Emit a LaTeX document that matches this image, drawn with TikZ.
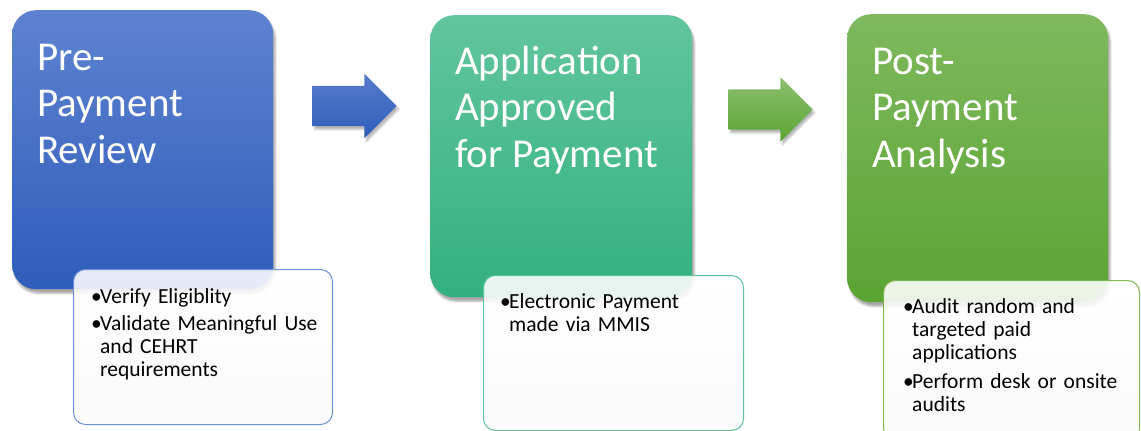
\documentclass[tikz,border=0pt]{standalone}
\usepackage{fontspec}
\setmainfont{Carlito}
\usetikzlibrary{shapes.arrows,shadows.blur}
\definecolor{B1}{RGB}{94, 130, 208}
\definecolor{B2}{RGB}{46, 93, 186}
\definecolor{T1}{RGB}{98, 197, 157}
\definecolor{T2}{RGB}{50, 177, 126}
\definecolor{G1}{RGB}{127, 184, 94}
\definecolor{G2}{RGB}{90, 164, 50}
\definecolor{BL}{RGB}{110, 144, 216}
\definecolor{TL}{RGB}{96, 196, 155}
\definecolor{GL}{RGB}{126, 184, 84}
\newcommand{\bul}[1]{\hangindent=9pt\hangafter=1\noindent\makebox[9pt][l]{\textbullet}#1\par}

\tikzset{
  stage/.style={rounded corners=24pt, inner sep=0pt, anchor=north west,
    blur shadow={shadow xshift=2pt, shadow yshift=-4pt, shadow opacity=35}},
  title/.style={text=white, anchor=base west, align=left, inner sep=0pt,
    font=\fontsize{41}{46.5}\selectfont},
  note/.style={rounded corners=12pt, inner sep=0pt, anchor=north west,
    top color=white, bottom color=black!2, fill opacity=0.88, line width=1pt},
  notetext/.style={anchor=base west, inner sep=0pt, text width=#1, align=left,
    font=\fontsize{21.5}{23}\selectfont},
  bigarrow/.style={single arrow, single arrow head extend=12pt, inner xsep=0pt,
    inner ysep=20pt, minimum height=84pt,
    blur shadow={shadow xshift=2pt, shadow yshift=-3pt, shadow opacity=30}}
}

\begin{document}
\begin{tikzpicture}[x=1pt, y=-1pt]
  \useasboundingbox (0,0) rectangle (1141,431);
  % stages
  \node[stage, top color=B1, bottom color=B2, minimum width=261pt, minimum height=279pt] (pre) at (12,10) {};
  \node[stage, top color=T1, bottom color=T2, minimum width=262pt, minimum height=282pt] (app) at (430,15) {};
  \node[stage, top color=G1, bottom color=G2, minimum width=261pt, minimum height=288pt] (post) at (847,14) {};
  \node[title] (pret) at (37,163) {Pre-\\Payment\\Review};
  \node[title] (appt) at (455,167) {Application\\Approved\\for Payment};
  \node[title] (postt) at (872,167) {Post-\\Payment\\Analysis};
  % arrows
  \node[bigarrow, top color=B1!85!B2, bottom color=B2] (a1) at (344.5,106) {};
  \node[bigarrow, top color=G1!90!white, bottom color=G2] (a2) at (760.5,109.5) {};
  % notes
  \node[note, draw=BL, minimum width=259pt, minimum height=155pt] (pren) at (73,269) {};
  \node[note, draw=TL, minimum width=260pt, minimum height=155pt] (appn) at (483,275) {};
  \node[note, draw=GL, minimum width=256pt, minimum height=160pt] (postn) at (883,280) {};
  \node[notetext=235pt] (prel) at (91,303) {\bul{Verify Eligiblity}\vspace{4pt}%
    \bul{Validate Meaningful Use\newline and CEHRT\newline requirements}};
  \node[notetext=235pt] (appl) at (500,308) {\bul{Electronic Payment\newline made via MMIS}};
  \node[notetext=235pt] (postl) at (903,313) {\bul{Audit random and\newline targeted paid\newline applications}\vspace{6pt}%
    \bul{Perform desk or onsite\newline audits}};
\end{tikzpicture}
\end{document}
